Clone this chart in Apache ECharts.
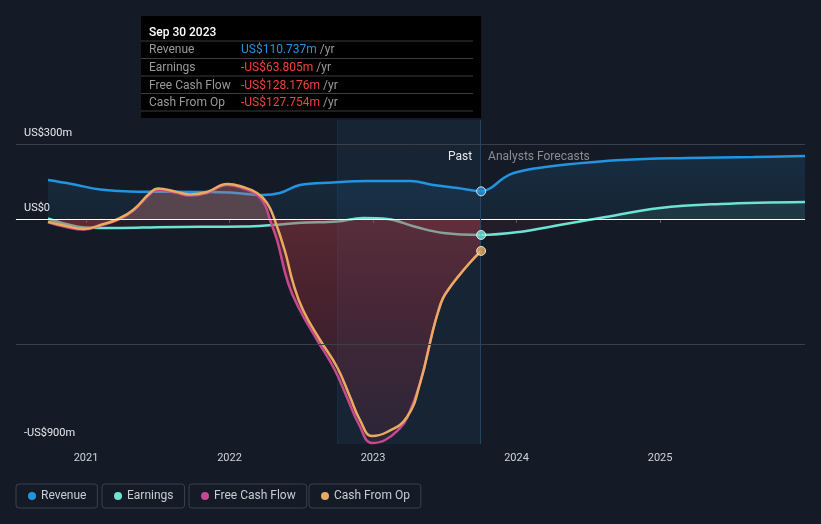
<!DOCTYPE html>
<html>
<head>
<meta charset="utf-8">
<script src="https://cdn.jsdelivr.net/npm/echarts@6/dist/echarts.min.js"></script>
<style>
html,body{margin:0;padding:0;background:#151b26;}
#chart{width:821px;height:524px;}
</style>
</head>
<body>
<div id="chart"></div>
<script>
// ---- data (x in decimal years, y in US$ millions) ----
const revenueX = [2020.735, 2020.9, 2021.1, 2021.3, 2021.8, 2022.0, 2022.23, 2022.35, 2022.49, 2022.72, 2022.96, 2023.26, 2023.42, 2023.59, 2023.753, 2023.82, 2023.91, 2023.98, 2024.15, 2024.38, 2024.73, 2025.19, 2025.65, 2026.01];
const revenueY = [156, 140, 118, 110, 108, 106, 96, 104, 136, 146, 152, 152, 136, 124, 110.737, 124, 164, 184, 204, 220, 236, 244, 248, 252];

const earningsX = [2020.735, 2020.86, 2020.99, 2021.24, 2021.5, 2021.8, 2022.1, 2022.3, 2022.5, 2022.75, 2022.93, 2023.1, 2023.3, 2023.49, 2023.753, 2024.02, 2024.3, 2024.58, 2025.0, 2025.42, 2026.01];
const earningsY = [2, -20, -34, -36, -33, -31, -30, -24, -15, -10, 4, 0, -32, -56, -63.805, -52, -24, 4, 44, 60, 68];

const fcfX = [2020.735, 2020.861, 2020.986, 2021.111, 2021.223, 2021.328, 2021.446, 2021.502, 2021.620, 2021.725, 2021.843, 2021.983, 2022.094, 2022.192, 2022.247, 2022.282, 2022.331, 2022.408, 2022.49, 2022.61, 2022.73, 2022.82, 2022.90, 2022.993, 2023.084, 2023.188, 2023.237, 2023.328, 2023.418, 2023.453, 2023.488, 2023.530, 2023.585, 2023.676, 2023.753];
const fcfY = [-13, -32, -42, -24, -3, 32, 100, 118, 106, 94, 104, 136, 122, 96, 56, -4, -84, -256, -364, -484, -600, -716, -820, -896, -884, -836, -796, -656, -444, -372, -316, -278, -236, -174, -128.176];

const cfoX = [2020.735, 2020.861, 2020.986, 2021.111, 2021.223, 2021.328, 2021.446, 2021.502, 2021.620, 2021.725, 2021.843, 2021.983, 2022.094, 2022.192, 2022.261, 2022.310, 2022.387, 2022.443, 2022.512, 2022.631, 2022.749, 2022.840, 2022.909, 2022.993, 2023.098, 2023.237, 2023.328, 2023.418, 2023.453, 2023.488, 2023.530, 2023.585, 2023.676, 2023.753];
const cfoY = [-11, -28, -40, -22, 0, 36, 104, 122, 110, 98, 108, 140, 128, 104, 64, 4, -130, -256, -364, -484, -592, -712, -804, -868, -852, -792, -656, -444, -372, -316, -278, -236, -174, -127.754];

const seriesNames = ['Revenue', 'Earnings', 'Free Cash Flow', 'Cash From Op'];
const seriesColors = ['#2394df', '#6de3d3', '#c6488e', '#e9ac5e'];
const xTickValues = [2021, 2022, 2023, 2024, 2025];
const yTickValues = [300, 0, -900];
const yGridValues = [300, -500];
const pastStart = 2022.749;
const nowX = 2023.753;
const tooltipTitle = 'Sep 30 2023';

// ---- build ----
const zip = (xs, ys) => xs.map((x, i) => [x, ys[i]]);
const fmtMoney = v => (v < 0 ? '-' : '') + 'US$' + Math.abs(v).toFixed(3) + 'm';
const fmtAxis = v => v === 0 ? 'US$0' : (v < 0 ? '-' : '') + 'US$' + Math.abs(v) + 'm';

const chart = echarts.init(document.getElementById('chart'), null, {renderer: 'canvas'});
const zeroStop = 219 / 524;
const globalGrad = (stops) => ({type: 'linear', x: 0, y: 0, x2: 0, y2: 524, global: true, colorStops: stops});

const allX = [revenueX, earningsX, fcfX, cfoX];
const allY = [revenueY, earningsY, fcfY, cfoY];
const lastPts = [0, 1, 3].map(i => ({
  value: [allX[i][allX[i].indexOf(nowX)], allY[i][allX[i].indexOf(nowX)]],
  itemStyle: {color: seriesColors[i], borderColor: '#ffffff', borderWidth: 1}
}));

const legendLefts = [16, 102, 189, 309];

const option = {
  backgroundColor: '#151b26',
  animation: false,
  textStyle: {fontFamily: 'Roboto, "Noto Sans", sans-serif'},
  grid: {left: 16, right: 16, top: 120, bottom: 80},
  xAxis: {
    type: 'value', min: 2020.512, max: 2026.01,
    splitLine: {show: false},
    axisLine: {show: true, lineStyle: {color: '#3e434c', width: 1}},
    axisTick: {show: true, customValues: xTickValues, length: 4, lineStyle: {color: '#555a63'}},
    axisLabel: {customValues: xTickValues, color: '#d0d3d8', fontSize: 11, margin: 9, formatter: v => String(Math.round(v))}
  },
  yAxis: {
    type: 'value', min: -900, max: 396,
    splitLine: {show: false},
    axisLine: {show: false}, axisTick: {show: false},
    axisLabel: {
      customValues: yTickValues, inside: true, margin: 8, color: '#e6e8eb', fontSize: 11,
      verticalAlign: 'bottom', padding: [0, 0, 5, 0], formatter: fmtAxis
    }
  },
  legend: seriesNames.map((n, i) => ({
    data: [n], left: legendLefts[i], top: 484, icon: 'circle', itemWidth: 8, itemHeight: 8,
    borderColor: '#3b4049', borderWidth: 1, borderRadius: 3, padding: [6, 11, 6, 12],
    textStyle: {color: '#c9ccd1', fontSize: 12}, selectedMode: false
  })),
  series: [
    {
      name: seriesNames[0], type: 'line', z: 2, data: zip(revenueX, revenueY), smooth: 0.4, symbol: 'none',
      lineStyle: {color: seriesColors[0], width: 2.5}, itemStyle: {color: seriesColors[0]},
      areaStyle: {color: globalGrad([{offset: 120/524, color: 'rgba(35,148,223,0.28)'}, {offset: zeroStop, color: 'rgba(35,148,223,0.10)'}])},
      markArea: {silent: true, itemStyle: {color: 'rgba(40,130,200,0.09)'}, data: [[{xAxis: pastStart}, {xAxis: nowX}]]},
      markLine: {
        silent: true, symbol: 'none', label: {show: false},
        data: [
          ...yGridValues.map(v => ({yAxis: v, lineStyle: {color: '#3a3f48', width: 1, type: 'solid'}})),
          {yAxis: 0, lineStyle: {color: '#ffffff', width: 1.2, type: 'solid'}},
          {xAxis: nowX, lineStyle: {color: '#234562', width: 1, type: 'solid'}},
          {xAxis: pastStart, lineStyle: {color: 'rgba(60,110,150,0.12)', width: 1, type: 'solid'}}
        ]
      }
    },
    {
      name: seriesNames[1], type: 'line', z: 2, data: zip(earningsX, earningsY), smooth: 0.4, symbol: 'none',
      lineStyle: {color: seriesColors[1], width: 2.5}, itemStyle: {color: seriesColors[1]},
      areaStyle: {color: globalGrad([{offset: 0, color: 'rgba(110,227,211,0.14)'}, {offset: zeroStop, color: 'rgba(110,227,211,0.14)'}, {offset: zeroStop, color: 'rgba(190,50,70,0.12)'}, {offset: 1, color: 'rgba(190,50,70,0.12)'}])}
    },
    {
      name: seriesNames[2], type: 'line', z: 3, data: zip(fcfX, fcfY), smooth: 0.45, symbol: 'none',
      lineStyle: {color: seriesColors[2], width: 2.5}, itemStyle: {color: seriesColors[2]},
      areaStyle: {color: globalGrad([
        {offset: 0, color: 'rgba(205,125,120,0.5)'}, {offset: zeroStop, color: 'rgba(205,125,120,0.5)'},
        {offset: zeroStop, color: 'rgba(185,60,70,0.58)'}, {offset: 300/524, color: 'rgba(165,45,60,0.5)'}, {offset: 444/524, color: 'rgba(120,45,70,0.3)'}, {offset: 1, color: 'rgba(120,45,70,0.3)'}])}
    },
    {
      name: seriesNames[3], type: 'line', z: 4, data: zip(cfoX, cfoY), smooth: 0.45, symbol: 'none',
      lineStyle: {color: seriesColors[3], width: 2.5}, itemStyle: {color: seriesColors[3]}
    },
    {
      type: 'scatter', data: lastPts, symbolSize: 9, z: 10, silent: true
    }
  ]
};
chart.setOption(option);

// ---- tooltip box & Past / Forecast labels ----
const px = chart.convertToPixel({gridIndex: 0}, [nowX, 0]);
const boxX = 141, boxY = 16, boxW = px[0] - 141, boxH = 102;
const rowNames = seriesNames;
const rowVals = [revenueY[revenueX.indexOf(nowX)], earningsY[earningsX.indexOf(nowX)], fcfY[fcfX.indexOf(nowX)], cfoY[cfoX.indexOf(nowX)]];
const rowYs = [49.5, 67.5, 85.5, 102.5];
const sepYs = [41, 58.5, 76, 93.5, 111];
const g = [
  {type: 'rect', shape: {x: boxX, y: boxY, width: boxW, height: boxH}, style: {fill: '#000000'}, z: 100},
  {type: 'text', x: 149, y: 32.5, style: {text: tooltipTitle, fill: '#ffffff', font: '500 12px Roboto', verticalAlign: 'middle'}, z: 101}
];
sepYs.forEach(y => g.push({type: 'line', shape: {x1: boxX, y1: y, x2: px[0] - 8, y2: y}, style: {stroke: '#3d3d3d', lineWidth: 1}, z: 101}));
rowNames.forEach((n, i) => {
  g.push({type: 'text', x: 149, y: rowYs[i], style: {text: n, fill: '#9a9a9a', font: '12px Roboto', verticalAlign: 'middle'}, z: 101});
  const col = rowVals[i] < 0 ? '#f0443f' : '#2394df';
  g.push({type: 'text', x: 241, y: rowYs[i], style: {
    text: '{v|' + fmtMoney(rowVals[i]) + '}{u| /yr}', verticalAlign: 'middle',
    rich: {v: {fill: col, font: '12px Roboto'}, u: {fill: '#9a9a9a', font: '12px Roboto'}}
  }, z: 101});
});
g.push({type: 'text', x: px[0] - 9, y: 157, style: {text: 'Past', fill: '#e8e8e8', font: '12px Roboto', align: 'right', verticalAlign: 'middle'}, z: 50});
g.push({type: 'text', x: px[0] + 7, y: 157, style: {text: 'Analysts Forecasts', fill: '#8a8d93', font: '12px Roboto', align: 'left', verticalAlign: 'middle'}, z: 50});
chart.setOption({graphic: g});
</script>
</body>
</html>
